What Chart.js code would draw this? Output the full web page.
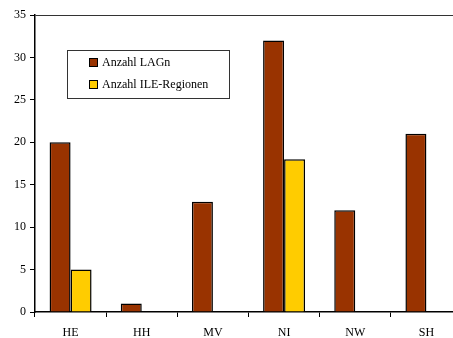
<!DOCTYPE html>
<html>
<head>
<meta charset="utf-8">
<script src="https://cdn.jsdelivr.net/npm/chart.js@4.4.1/dist/chart.umd.min.js"></script>
<style>
  html, body { margin: 0; padding: 0; background: #fff; overflow: hidden; }
  #wrap { width: 453px; height: 338px; overflow: hidden; position: relative; }
  canvas { display: block; }
</style>
</head>
<body>
<div id="wrap"><canvas id="c" width="462" height="338"></canvas></div>
<script>
// Bundesländer and counts per region type
const categories = ['HE', 'HH', 'MV', 'NI', 'NW', 'SH'];
const lagnCounts = [20, 1, 13, 32, 12, 21];
const ileCounts = [5, 0, 0, 18, 0, 0];
const yTicks = [0, 5, 10, 15, 20, 25, 30, 35];

const serif = '"Liberation Serif", "Times New Roman", serif';

// Boxed legend drawn inside the plot area
const boxLegend = {
  id: 'boxLegend',
  afterDraw(chart) {
    const ctx = chart.ctx;
    const x0 = 67.5, y0 = 50.5, w = 162, h = 48;
    ctx.save();
    ctx.fillStyle = '#fff';
    ctx.fillRect(x0, y0, w, h);
    ctx.strokeStyle = '#333';
    ctx.lineWidth = 1;
    ctx.strokeRect(x0, y0, w, h);
    ctx.font = '12px ' + serif;
    ctx.textBaseline = 'alphabetic';
    chart.data.datasets.forEach((ds, i) => {
      const sy = 58.5 + i * 22;
      ctx.fillStyle = ds.backgroundColor;
      ctx.fillRect(89.5, sy, 8, 8);
      ctx.strokeStyle = '#000';
      ctx.strokeRect(89.5, sy, 8, 8);
      ctx.fillStyle = '#000';
      ctx.fillText(ds.label, 102, 66 + i * 22);
    });
    ctx.restore();
  }
};

new Chart(document.getElementById('c'), {
  type: 'bar',
  data: {
    labels: categories,
    datasets: [
      {
        label: 'Anzahl LAGn',
        data: lagnCounts,
        backgroundColor: '#993300',
        borderColor: '#000',
        borderWidth: 1.5,
        barPercentage: 1.0,
        categoryPercentage: 0.59
      },
      {
        label: 'Anzahl ILE-Regionen',
        data: ileCounts,
        backgroundColor: '#FFCC00',
        borderColor: '#000',
        borderWidth: 1.5,
        barPercentage: 1.0,
        categoryPercentage: 0.59
      }
    ]
  },
  options: {
    responsive: false,
    animation: false,
    layout: { padding: { top: 15, right: 0, left: 0, bottom: 0 } },
    plugins: {
      legend: { display: false },
      tooltip: { enabled: false }
    },
    scales: {
      x: {
        afterFit(scale) { scale.height = 26; },
        border: { display: true, color: '#000', width: 1.5 },
        grid: {
          offset: true,
          drawOnChartArea: false,
          drawTicks: true,
          tickLength: 5,
          tickColor: '#000'
        },
        ticks: {
          color: '#000',
          padding: 9,
          font: { family: serif, size: 12 }
        }
      },
      y: {
        min: 0,
        max: 35,
        afterFit(scale) { scale.width = 35; },
        afterBuildTicks(scale) {
          scale.ticks = yTicks.map(v => ({ value: v }));
        },
        border: { display: true, color: '#000', width: 1.5 },
        grid: {
          drawOnChartArea: true,
          drawTicks: true,
          tickLength: 5,
          tickColor: '#000',
          color: ctx => (ctx.tick && ctx.tick.value === 35 ? '#333' : 'rgba(0,0,0,0)')
        },
        ticks: {
          color: '#000',
          padding: 4,
          font: { family: serif, size: 12 }
        }
      }
    }
  },
  plugins: [boxLegend]
});
</script>
</body>
</html>
